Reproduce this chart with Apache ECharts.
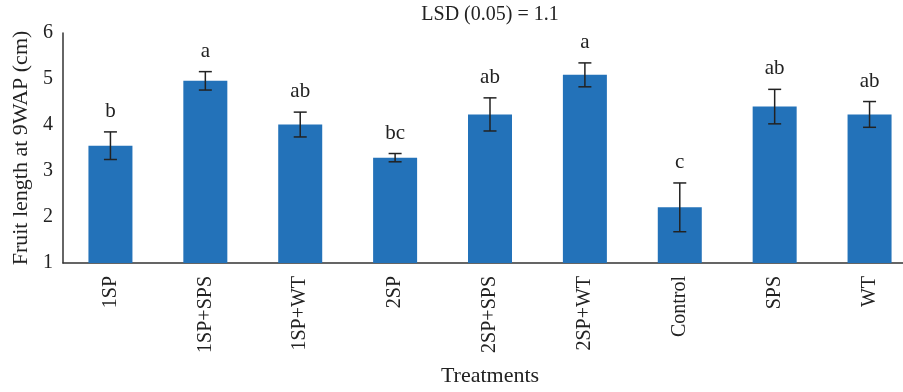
<!DOCTYPE html>
<html>
<head>
<meta charset="utf-8">
<script src="https://cdn.jsdelivr.net/npm/echarts@6/dist/echarts.min.js"></script>
<style>html,body{margin:0;padding:0;background:#fff;overflow:hidden;width:903px;height:392px;}#c{width:917px;height:392px;}</style>
</head>
<body>
<div id="c"></div>
<script>
const categories = ['1SP', '1SP+SPS', '1SP+WT', '2SP', '2SP+SPS', '2SP+WT', 'Control', 'SPS', 'WT'];
const means = [3.55, 4.96, 4.01, 3.29, 4.23, 5.09, 2.21, 4.40, 4.23];
const errors = [0.30, 0.20, 0.27, 0.09, 0.36, 0.26, 0.53, 0.375, 0.28];
const letters = ['b', 'a', 'ab', 'bc', 'ab', 'a', 'c', 'ab', 'ab'];
const yTicks = [1, 2, 3, 4, 5, 6];

const FONT = '"Liberation Serif", "DejaVu Serif", serif';
const chart = echarts.init(document.getElementById('c'));
chart.setOption({
  animation: false,
  backgroundColor: '#fff',
  graphic: [{
    type: 'text', x: 490, y: 5,
    style: { text: 'LSD (0.05) = 1.1', font: '20px ' + FONT, fill: '#222', align: 'center', verticalAlign: 'top' }
  }],
  grid: { left: 63, top: 33, right: 0, bottom: 128 },
  xAxis: {
    type: 'category', data: categories,
    axisTick: { show: false },
    axisLine: { lineStyle: { color: '#333', width: 1.5 } },
    axisLabel: { rotate: 90, margin: 13, color: '#222', fontFamily: FONT, fontSize: 20 },
    name: 'Treatments', nameLocation: 'middle', nameGap: 102,
    nameTextStyle: { color: '#222', fontFamily: FONT, fontSize: 22 }
  },
  yAxis: {
    type: 'value', min: yTicks[0], max: yTicks[yTicks.length - 1], interval: 1,
    splitLine: { show: false },
    axisTick: { show: false },
    axisLine: { show: true, lineStyle: { color: '#333', width: 1.5 } },
    axisLabel: { margin: 10, color: '#222', fontFamily: FONT, fontSize: 20 },
    name: 'Fruit length at 9WAP (cm)', nameLocation: 'middle', nameGap: 30,
    nameTextStyle: { color: '#222', fontFamily: FONT, fontSize: 22 }
  },
  series: [
    {
      type: 'bar', data: means, barWidth: 44,
      itemStyle: { color: '#2372B9' }
    },
    {
      type: 'custom',
      data: means.map((m, i) => [i, m + errors[i], m - errors[i]]),
      z: 10,
      renderItem: function (params, api) {
        const hi = api.coord([api.value(0), api.value(1)]);
        const lo = api.coord([api.value(0), api.value(2)]);
        const cap = 6.5;
        const st = { stroke: '#222', lineWidth: 1.5 };
        return {
          type: 'group',
          children: [
            { type: 'line', shape: { x1: hi[0], y1: hi[1], x2: lo[0], y2: lo[1] }, style: st },
            { type: 'line', shape: { x1: hi[0] - cap, y1: hi[1], x2: hi[0] + cap, y2: hi[1] }, style: st },
            { type: 'line', shape: { x1: lo[0] - cap, y1: lo[1], x2: lo[0] + cap, y2: lo[1] }, style: st },
            { type: 'text', x: hi[0], y: hi[1] - 10,
              style: { text: letters[params.dataIndex], font: '21px ' + FONT, fill: '#222', align: 'center', verticalAlign: 'bottom' } }
          ]
        };
      }
    }
  ]
});
</script>
</body>
</html>
